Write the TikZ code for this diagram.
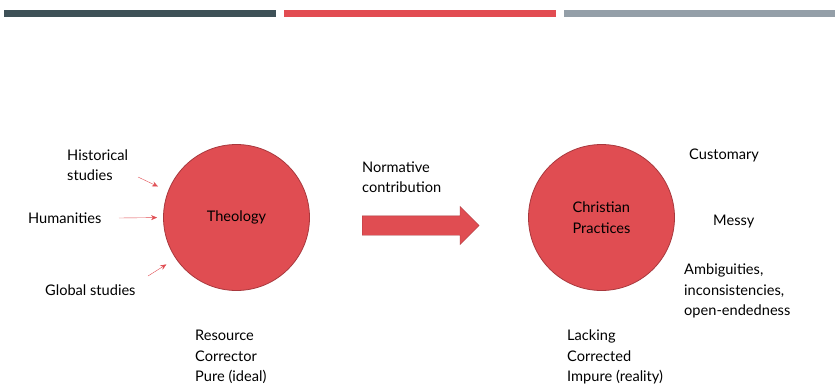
\documentclass[tikz,border=0pt]{standalone}
\usepackage{fontspec}
\setmainfont{Lato}
\usetikzlibrary{arrows.meta,shapes.arrows}

\definecolor{barslate}{HTML}{3E5157}
\definecolor{barred}{HTML}{E24C52}
\definecolor{bargray}{HTML}{949FA8}
\definecolor{discfill}{HTML}{E04D52}
\definecolor{discline}{HTML}{A8383D}

\tikzset{
  disc/.style={circle, draw=discline, fill=discfill, thick, minimum size=146pt, inner sep=0pt, align=left},
  txt/.style={anchor=west, align=left, inner sep=0pt},
  feed/.style={-{Stealth[length=6pt,width=5pt]}, draw=discfill, thin}
}

\begin{document}
\begin{tikzpicture}[x=1pt, y=-1pt, font=\fontsize{14.6}{20.5}\selectfont]
\useasboundingbox (0,0) rectangle (835,389);

% Top bars
\foreach \x/\c in {4/barslate,284/barred,564/bargray}
{
    \fill[\c] (\x,10) rectangle ++(272,7);
}

% Circles
\node[disc] (theo) at (236.5,217.5) {Theology};
\node[disc] (prac) at (601.5,217.5) {Christian\\Practices};

% Sources on the left
\node[txt] (hist) at (67,165) {Historical\\studies};
\node[txt] (hum) at (28,218) {Humanities};
\node[txt] (glob) at (45,290) {Global studies};

% Small arrows into the circle
\coordinate (hist-tail) at (138,177);
\coordinate (hum-tail) at (119,218);
\coordinate (glob-tail) at (148,276);
\draw[feed, shorten >=11pt] (hist-tail) -- (theo.159);
\draw[feed, shorten >=6pt] (hum-tail) -- (theo.west);
\draw[feed, shorten >=11pt] (glob-tail) -- (theo.214);

% Big arrow in the middle
\node[txt] (norm) at (362,177) {Normative\\contribution};
\node[single arrow, draw=discline, fill=discfill, minimum height=117pt,
      single arrow head extend=9.5pt, inner sep=0pt, anchor=tail]
      (flow) at (362,225.5) {\rule{0pt}{19pt}};

% Traits on the right
\node[txt] (cust) at (689,155) {Customary};
\node[txt] (messy) at (713,222) {Messy};
\node[txt] (ambig) at (684,291) {Ambiguities,\\inconsistencies,\\open-endedness};

% Lists below
\node[txt] (res) at (195,357) {Resource\\Corrector\\Pure (ideal)};
\node[txt] (lack) at (567,357) {Lacking\\Corrected\\Impure (reality)};

\end{tikzpicture}
\end{document}
